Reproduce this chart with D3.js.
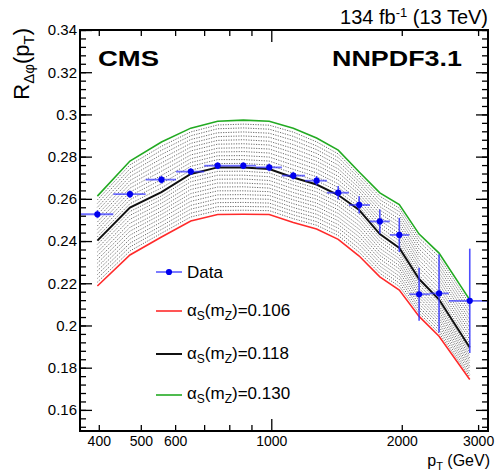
<!DOCTYPE html>
<html><head><meta charset="utf-8">
<script src="https://cdn.jsdelivr.net/npm/d3@7"></script>
<style>body{margin:0;background:#fff}svg{display:block}text{font-family:"Liberation Sans",Arial,Helvetica,sans-serif}</style>
</head><body><svg id="c" width="497" height="473"></svg>
<script>
// ---------- data ----------
const binEdges   = [362, 432, 513, 603, 700, 807, 922, 1058, 1196, 1344, 1510, 1688, 1877, 2082, 2321, 2567, 3157];
const binCenters = [397, 472, 558, 652, 752, 862, 989, 1124, 1272, 1427, 1595, 1780, 1974, 2193, 2438, 2870];
const dataValues = [0.2527, 0.2622, 0.2691, 0.2729, 0.2757, 0.2757, 0.2749, 0.2710, 0.2686, 0.2629, 0.2571, 0.2493, 0.2429, 0.2148, 0.2152, 0.2117];
const dataErrors = [0.0018, 0.0018, 0.0018, 0.0016, 0.0016, 0.0016, 0.0018, 0.0018, 0.0022, 0.0032, 0.0041, 0.0057, 0.0081, 0.0126, 0.0185, 0.0247];

const curveAs106 = [0.2187, 0.2334, 0.2419, 0.2495, 0.2526, 0.2527, 0.2526, 0.2488, 0.2457, 0.2408, 0.2329, 0.2230, 0.2168, 0.2043, 0.1949, 0.1744];
const curveAs118 = [0.2402, 0.2559, 0.2632, 0.2718, 0.2749, 0.2749, 0.2741, 0.2701, 0.2668, 0.2618, 0.2547, 0.2433, 0.2367, 0.2220, 0.2123, 0.1896];
const curveAs130 = [0.2613, 0.2779, 0.2869, 0.2935, 0.2968, 0.2973, 0.2968, 0.2935, 0.2888, 0.2831, 0.2727, 0.2628, 0.2573, 0.2433, 0.2343, 0.2121];

const scanAlphas = [0.107,0.108,0.109,0.110,0.111,0.112,0.113,0.114,0.115,0.116,0.117,
                    0.119,0.120,0.121,0.122,0.123,0.124,0.125,0.126,0.127,0.128,0.129];
const scanCurves = [
 [0.2205,0.2353,0.2437,0.2514,0.2545,0.2546,0.2544,0.2506,0.2475,0.2426,0.2347,0.2247,0.2185,0.2058,0.1964,0.1757],
 [0.2223,0.2372,0.2455,0.2532,0.2563,0.2564,0.2562,0.2524,0.2492,0.2443,0.2365,0.2264,0.2201,0.2073,0.1978,0.1769],
 [0.2241,0.2390,0.2472,0.2551,0.2582,0.2583,0.2580,0.2541,0.2510,0.2461,0.2384,0.2281,0.2218,0.2087,0.1993,0.1782],
 [0.2259,0.2409,0.2490,0.2569,0.2600,0.2601,0.2598,0.2559,0.2527,0.2478,0.2402,0.2298,0.2234,0.2102,0.2007,0.1795],
 [0.2277,0.2428,0.2508,0.2588,0.2619,0.2620,0.2616,0.2577,0.2545,0.2496,0.2420,0.2315,0.2251,0.2117,0.2022,0.1807],
 [0.2295,0.2447,0.2526,0.2607,0.2638,0.2638,0.2634,0.2595,0.2563,0.2513,0.2438,0.2332,0.2268,0.2132,0.2036,0.1820],
 [0.2312,0.2465,0.2543,0.2625,0.2656,0.2657,0.2651,0.2612,0.2580,0.2531,0.2456,0.2348,0.2284,0.2146,0.2051,0.1833],
 [0.2330,0.2484,0.2561,0.2644,0.2675,0.2675,0.2669,0.2630,0.2598,0.2548,0.2474,0.2365,0.2301,0.2161,0.2065,0.1845],
 [0.2348,0.2503,0.2579,0.2662,0.2693,0.2694,0.2687,0.2648,0.2615,0.2566,0.2493,0.2382,0.2317,0.2176,0.2080,0.1858],
 [0.2366,0.2522,0.2597,0.2681,0.2712,0.2712,0.2705,0.2666,0.2633,0.2583,0.2511,0.2399,0.2334,0.2191,0.2094,0.1871],
 [0.2384,0.2540,0.2614,0.2699,0.2730,0.2731,0.2723,0.2683,0.2650,0.2601,0.2529,0.2416,0.2350,0.2205,0.2109,0.1883],
 [0.2420,0.2577,0.2652,0.2736,0.2767,0.2768,0.2760,0.2721,0.2686,0.2636,0.2562,0.2449,0.2384,0.2238,0.2141,0.1915],
 [0.2437,0.2596,0.2672,0.2754,0.2786,0.2786,0.2779,0.2740,0.2705,0.2654,0.2577,0.2466,0.2401,0.2256,0.2160,0.1934],
 [0.2455,0.2614,0.2691,0.2772,0.2804,0.2805,0.2798,0.2760,0.2723,0.2671,0.2592,0.2482,0.2419,0.2273,0.2178,0.1952],
 [0.2472,0.2632,0.2711,0.2790,0.2822,0.2824,0.2817,0.2779,0.2741,0.2689,0.2607,0.2498,0.2436,0.2291,0.2196,0.1971],
 [0.2490,0.2651,0.2731,0.2808,0.2840,0.2842,0.2836,0.2799,0.2760,0.2707,0.2622,0.2514,0.2453,0.2309,0.2215,0.1990],
 [0.2508,0.2669,0.2751,0.2827,0.2859,0.2861,0.2855,0.2818,0.2778,0.2725,0.2637,0.2531,0.2470,0.2327,0.2233,0.2009],
 [0.2525,0.2687,0.2770,0.2845,0.2877,0.2880,0.2873,0.2838,0.2796,0.2742,0.2652,0.2547,0.2487,0.2344,0.2251,0.2027],
 [0.2543,0.2706,0.2790,0.2863,0.2895,0.2898,0.2892,0.2857,0.2815,0.2760,0.2667,0.2563,0.2504,0.2362,0.2270,0.2046],
 [0.2560,0.2724,0.2810,0.2881,0.2913,0.2917,0.2911,0.2877,0.2833,0.2778,0.2682,0.2579,0.2522,0.2380,0.2288,0.2065],
 [0.2578,0.2742,0.2830,0.2899,0.2932,0.2936,0.2930,0.2896,0.2851,0.2796,0.2697,0.2596,0.2539,0.2398,0.2306,0.2084],
 [0.2595,0.2761,0.2849,0.2917,0.2950,0.2954,0.2949,0.2916,0.2870,0.2813,0.2712,0.2612,0.2556,0.2415,0.2325,0.2102]
];

const xTickValues = [400, 500, 600, 700, 800, 900, 1000, 2000, 3000];
const xTickLabels = [400, 500, 600, 1000, 2000, 3000];
const yTickLabels = [0.16, 0.18, 0.20, 0.22, 0.24, 0.26, 0.28, 0.30, 0.32, 0.34];
const legendLabels = ["Data", "0.106", "0.118", "0.130"];

// ---------- drawing ----------
const svg = d3.select("#c");
svg.append("rect").attr("width", 497).attr("height", 473).attr("fill", "#fff");

const x = d3.scaleLog().domain([362, 3162]).range([80, 488]);
const y = d3.scaleLinear().domain([0.15, 0.34]).range([431, 30]);

const line = d3.line().x((d, i) => x(binCenters[i])).y(d => y(d));

// scan curves (dotted)
svg.append("g").selectAll("path").data(scanCurves).join("path")
  .attr("d", line).attr("fill", "none").attr("stroke", "#505050")
  .attr("stroke-width", 0.85).attr("stroke-dasharray", "1.2,1.3");

const mainCurves = [
  {v: curveAs106, c: "#ff2a2a", w: 1.6},
  {v: curveAs130, c: "#22aa22", w: 1.6},
  {v: curveAs118, c: "#111111", w: 2.0}
];
svg.append("g").selectAll("path").data(mainCurves).join("path")
  .attr("d", d => line(d.v)).attr("fill", "none")
  .attr("stroke", d => d.c).attr("stroke-width", d => d.w);

// data
const dataIdx = d3.range(dataValues.length);
const gData = svg.append("g");
gData.selectAll("line.h").data(dataIdx).join("line").attr("class", "h")
  .attr("x1", i => x(binEdges[i])).attr("x2", i => x(binEdges[i + 1]))
  .attr("y1", i => y(dataValues[i])).attr("y2", i => y(dataValues[i]))
  .attr("stroke", "#2f2fff").attr("stroke-opacity", 0.7).attr("stroke-width", 1.8);
gData.selectAll("line.v").data(dataIdx).join("line").attr("class", "v")
  .attr("x1", i => x(binCenters[i])).attr("x2", i => x(binCenters[i]))
  .attr("y1", i => y(dataValues[i] - dataErrors[i])).attr("y2", i => y(dataValues[i] + dataErrors[i]))
  .attr("stroke", "#2f2fff").attr("stroke-opacity", 0.85).attr("stroke-width", 1.6);
gData.selectAll("circle").data(dataIdx).join("circle")
  .attr("cx", i => x(binCenters[i])).attr("cy", i => y(dataValues[i]))
  .attr("r", 3.1).attr("fill", "#0000ee");

// frame & axes
const axisStyle = g => {
  g.select(".domain").remove();
  g.selectAll(".tick line").attr("stroke", "#000").attr("stroke-width", 1.3);
  g.selectAll(".tick text").attr("fill", "#000").attr("font-family", '"Liberation Sans",Arial,sans-serif');
};
const gB = svg.append("g").attr("transform", "translate(0,431)")
  .call(d3.axisBottom(x).tickValues(xTickValues).tickSizeInner(-6).tickSizeOuter(0).tickPadding(5)
        .tickFormat(d => xTickLabels.includes(d) ? String(d) : ""));
axisStyle(gB);
gB.selectAll(".tick line").attr("y2", d => d === 1000 ? -12 : -6);
gB.selectAll(".tick text").attr("font-size", 14);

const gT = svg.append("g").attr("transform", "translate(0,30)")
  .call(d3.axisTop(x).tickValues(xTickValues).tickSizeInner(-6).tickSizeOuter(0).tickFormat(""));
axisStyle(gT);
gT.selectAll(".tick line").attr("y2", d => d === 1000 ? 12 : 6);

const yMinor = d3.range(38, 86).map(k => k * 0.004).filter(v => v >= 0.15 && v <= 0.3401);
[["L", 80, d3.axisLeft], ["R", 488, d3.axisRight]].forEach(([side, px, ax]) => {
  const gm = svg.append("g").attr("transform", `translate(${px},0)`)
    .call(ax(y).tickValues(yMinor).tickSizeInner(-6).tickSizeOuter(0).tickFormat(""));
  axisStyle(gm);
  const gM = svg.append("g").attr("transform", `translate(${px},0)`)
    .call(ax(y).tickValues(yTickLabels).tickSizeInner(-12).tickSizeOuter(0).tickPadding(3)
          .tickFormat(d => side === "L" ? String(+d.toFixed(2)) : ""));
  axisStyle(gM);
  gM.selectAll(".tick text").attr("font-size", 15);
});

svg.append("rect").attr("x", x.range()[0]).attr("y", y.range()[1])
  .attr("width", x.range()[1] - x.range()[0]).attr("height", y.range()[0] - y.range()[1])
  .attr("fill", "none").attr("stroke", "#000").attr("stroke-width", 2);

// legend
const lg = svg.append("g");
const lx0 = 156, lx1 = 182, tx = 187;
lg.append("line").attr("x1", lx0).attr("x2", lx1).attr("y1", 272).attr("y2", 272)
  .attr("stroke", "#2f2fff").attr("stroke-opacity", 0.7).attr("stroke-width", 1.8);
lg.append("circle").attr("cx", (lx0 + lx1) / 2).attr("cy", 272).attr("r", 3.1).attr("fill", "#0000ee");
lg.append("text").attr("x", tx).attr("y", 277.5).attr("font-size", 17).text(legendLabels[0]);
const legRows = [
  {c: "#ff2a2a", w: 1.6, ly: 311, ty: 316, lab: legendLabels[1]},
  {c: "#111111", w: 2.0, ly: 354, ty: 358.5, lab: legendLabels[2]},
  {c: "#22aa22", w: 1.6, ly: 395, ty: 398.5, lab: legendLabels[3]}
];
legRows.forEach(r => {
  lg.append("line").attr("x1", lx0).attr("x2", lx1).attr("y1", r.ly).attr("y2", r.ly)
    .attr("stroke", r.c).attr("stroke-width", r.w);
  const t = lg.append("text").attr("x", tx).attr("y", r.ty).attr("font-size", 17);
  t.append("tspan").text("α");
  t.append("tspan").attr("font-size", 12).attr("dy", 4).text("S");
  t.append("tspan").attr("dy", -4).text("(m");
  t.append("tspan").attr("font-size", 12).attr("dy", 4).text("Z");
  t.append("tspan").attr("dy", -4).text(")=" + r.lab);
});

// texts
svg.append("text").attr("x", 98).attr("y", 65.5).attr("font-size", 22).attr("font-weight", "bold")
  .attr("textLength", 61).attr("lengthAdjust", "spacingAndGlyphs").text("CMS");
svg.append("text").attr("x", 332).attr("y", 65.5).attr("font-size", 22).attr("font-weight", "bold")
  .attr("textLength", 130).attr("lengthAdjust", "spacingAndGlyphs").text("NNPDF3.1");

const hdr = svg.append("text").attr("x", 488).attr("y", 24).attr("font-size", 20).attr("text-anchor", "end");
hdr.append("tspan").text("134 fb");
hdr.append("tspan").attr("font-size", 13).attr("dy", -7).text("-1");
hdr.append("tspan").attr("dy", 7).text(" (13 TeV)");

const xt = svg.append("text").attr("x", 490).attr("y", 466).attr("font-size", 16).attr("text-anchor", "end");
xt.append("tspan").text("p");
xt.append("tspan").attr("font-size", 11).attr("dy", 4).text("T");
xt.append("tspan").attr("dy", -4).text(" (GeV)");

const yt = svg.append("text").attr("transform", "translate(29,28) rotate(-90)")
  .attr("font-size", 22).attr("text-anchor", "end");
yt.append("tspan").text("R");
yt.append("tspan").attr("font-size", 15).attr("dy", 5).text("Δφ");
yt.append("tspan").attr("dy", -5).text("(p");
yt.append("tspan").attr("font-size", 15).attr("dy", 5).text("T");
yt.append("tspan").attr("dy", -5).text(")");
</script></body></html>
